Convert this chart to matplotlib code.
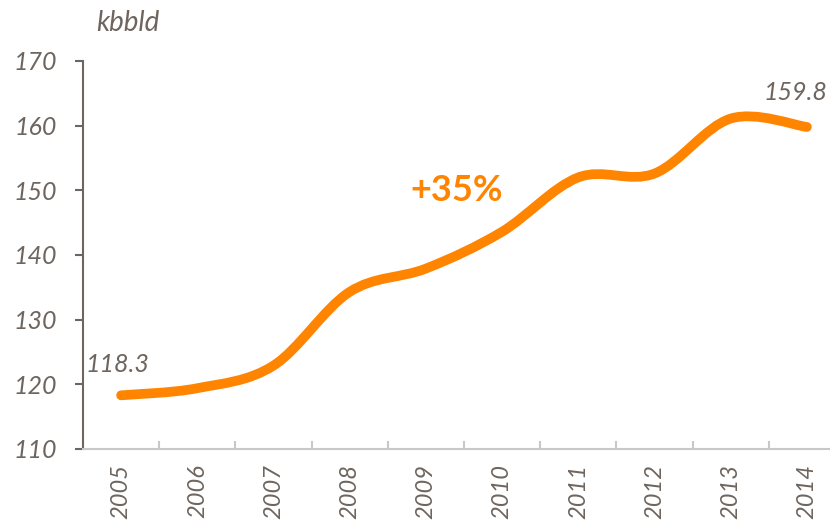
import numpy as np
import matplotlib.pyplot as plt
from matplotlib.path import Path
from matplotlib.patches import PathPatch

years = ['2005', '2006', '2007', '2008', '2009', '2010', '2011', '2012', '2013', '2014']
values = [118.3, 119.4, 122.9, 134.3, 137.9, 143.6, 152.0, 152.6, 161.1, 159.8]
y_ticks = [110, 120, 130, 140, 150, 160, 170]

ORANGE = '#ff8400'
GREY = '#6e655f'
LIGHT = '#c8c8c8'
FONT = 'Lato'


def smooth_path(x, y):
    """Excel-style smoothed line as cubic Bezier segments"""
    pts = np.column_stack([x, y]).astype(float)
    n = len(pts)
    verts = [pts[0]]
    codes = [Path.MOVETO]
    for i in range(n - 1):
        p0 = pts[max(i - 1, 0)]
        p1 = pts[i]
        p2 = pts[i + 1]
        p3 = pts[min(i + 2, n - 1)]
        c1 = p1 + (p2 - p0) / 6
        c2 = p2 - (p3 - p1) / 6
        verts += [c1, c2, p2]
        codes += [Path.CURVE4] * 3
    return Path(verts, codes)


fig = plt.figure(figsize=(8.3, 5.25), dpi=100)
ax = fig.add_axes([83 / 830, 76 / 525, 762 / 830, 388 / 525])

x = np.arange(len(years))
patch = PathPatch(smooth_path(x, values), facecolor='none', edgecolor=ORANGE,
                  lw=7, capstyle='round', joinstyle='round')
ax.add_patch(patch)

ax.set_xlim(-0.5, len(years) - 0.5)
ax.set_ylim(110, 170)

for s in ['top', 'right']:
    ax.spines[s].set_visible(False)
ax.spines['left'].set_color(GREY)
ax.spines['left'].set_linewidth(1.5)
ax.spines['bottom'].set_color(LIGHT)
ax.spines['bottom'].set_linewidth(1.5)

ax.set_yticks(y_ticks)
ax.set_yticklabels([str(v) for v in y_ticks], fontsize=18, color=GREY,
                   fontstyle='italic', family=FONT)
ax.tick_params(axis='y', length=6, width=1.5, color=GREY, pad=13)

ax.set_xticks(x)
ax.set_xticklabels(years, rotation=90, fontsize=17, color=GREY,
                   fontstyle='italic', family=FONT)
ax.tick_params(axis='x', which='major', length=0, pad=11)
ax.set_xticks(x[:-1] + 0.5, minor=True)
ax.tick_params(axis='x', which='minor', direction='in', length=6, width=1.5, color=LIGHT)

ax.text(-0.47, values[0] + 3, f'{values[0]}', fontsize=18, color=GREY,
        fontstyle='italic', family=FONT, ha='left', va='bottom')
ax.text(x[-1] - 0.57, values[-1] + 3.5, f'{values[-1]}', fontsize=18, color=GREY,
        fontstyle='italic', family=FONT, ha='left', va='bottom')
ax.text(4.4, 150, '+35%', fontsize=26, color=ORANGE, fontweight='bold',
        family=FONT, ha='center', va='center')

fig.text(96 / 830, 1 - 23 / 525, 'kbbld', fontsize=20, color=GREY,
         fontstyle='italic', family=FONT, ha='left', va='center')

fig.savefig('out.png', dpi=100)
